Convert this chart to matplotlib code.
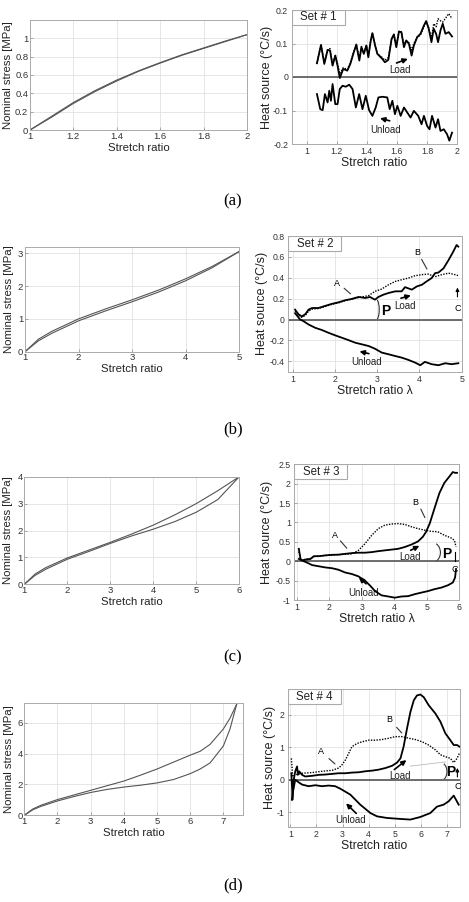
import numpy as np
import matplotlib
matplotlib.use("Agg")
import matplotlib.pyplot as plt
from matplotlib.patches import Arc, Rectangle

plt.rcParams['font.family'] = ['Liberation Sans', 'DejaVu Sans']

# ---------------- data: stress-stretch (left panels) ----------------
s1_load_x = [1, 1.1, 1.2, 1.3, 1.4, 1.5, 1.6, 1.7, 1.8, 1.9, 2.0]
s1_load_y = [0, 0.15, 0.30, 0.43, 0.545, 0.645, 0.735, 0.82, 0.895, 0.97, 1.04]
s1_unl_y = [0, 0.14, 0.29, 0.42, 0.535, 0.64, 0.73, 0.815, 0.89, 0.965, 1.04]

s2_x = [1, 1.25, 1.5, 2, 2.5, 3, 3.5, 4, 4.5, 5]
s2_load_y = [0, 0.38, 0.62, 1.0, 1.3, 1.58, 1.88, 2.22, 2.6, 3.05]
s2_unl_y = [0, 0.33, 0.56, 0.94, 1.24, 1.52, 1.82, 2.16, 2.56, 3.05]

s3_x = [1, 1.25, 1.5, 2, 2.5, 3, 3.5, 4, 4.5, 5, 5.5, 6]
s3_load_y = [0, 0.38, 0.62, 0.98, 1.27, 1.56, 1.87, 2.2, 2.58, 3.0, 3.48, 4.0]
s3_unl_y = [0, 0.33, 0.56, 0.93, 1.22, 1.52, 1.8, 2.05, 2.33, 2.68, 3.15, 4.0]

s4_x = [1, 1.25, 1.5, 2, 2.5, 3, 3.5, 4, 4.5, 5, 5.5, 6, 6.3, 6.6, 7.0, 7.2, 7.4]
s4_load_y = [0, 0.4, 0.65, 1.02, 1.32, 1.62, 1.92, 2.22, 2.6, 3.0, 3.45, 3.9, 4.15, 4.6, 5.6, 6.3, 7.2]
s4_unl_y = [0, 0.35, 0.58, 0.93, 1.22, 1.48, 1.68, 1.83, 1.95, 2.1, 2.32, 2.7, 3.0, 3.4, 4.5, 5.6, 7.2]

# ---------------- data: heat source (right panels) ----------------
h1_load_x = [1.068, 1.095, 1.117, 1.139, 1.155, 1.172, 1.19, 1.205, 1.22, 1.243, 1.27, 1.29,
             1.31, 1.33, 1.35, 1.364, 1.38, 1.397, 1.41, 1.426, 1.437, 1.455, 1.47, 1.503,
             1.52, 1.543, 1.565, 1.58, 1.596, 1.614, 1.63, 1.647, 1.662, 1.68, 1.698, 1.713,
             1.735, 1.757, 1.78, 1.795, 1.812, 1.83, 1.845, 1.861, 1.874, 1.89, 1.905, 1.923,
             1.945, 1.967]
h1_load_y = [0.041, 0.096, 0.039, 0.081, 0.079, 0.034, 0.064, 0.034, -0.003, 0.024, 0.019, 0.039,
             0.069, 0.097, 0.049, 0.089, 0.069, 0.094, 0.059, 0.109, 0.131, 0.094, 0.069, 0.054,
             0.044, 0.051, 0.114, 0.127, 0.089, 0.136, 0.134, 0.089, 0.109, 0.099, 0.064, 0.094,
             0.119, 0.129, 0.154, 0.167, 0.144, 0.104, 0.144, 0.129, 0.104, 0.139, 0.159, 0.129,
             0.134, 0.121]
h1_dot_y = [0.041, 0.096, 0.042, 0.081, 0.085, 0.036, 0.066, 0.040, 0.010, 0.028, 0.022, 0.043,
            0.072, 0.097, 0.055, 0.091, 0.072, 0.094, 0.063, 0.109, 0.131, 0.096, 0.070, 0.058,
            0.050, 0.058, 0.114, 0.127, 0.093, 0.136, 0.134, 0.095, 0.109, 0.103, 0.080, 0.100,
            0.119, 0.125, 0.150, 0.165, 0.146, 0.115, 0.159, 0.150, 0.174, 0.168, 0.164, 0.175,
            0.189, 0.174]
h1_unl_x = [1.068, 1.09, 1.106, 1.121, 1.139, 1.15, 1.161, 1.172, 1.19, 1.205, 1.22, 1.238,
            1.26, 1.283, 1.305, 1.327, 1.349, 1.371, 1.393, 1.415, 1.437, 1.459, 1.477, 1.503,
            1.536, 1.552, 1.57, 1.587, 1.603, 1.625, 1.647, 1.669, 1.691, 1.713, 1.742, 1.764,
            1.78, 1.801, 1.817, 1.834, 1.857, 1.874, 1.89, 1.912, 1.934, 1.949, 1.967]
h1_unl_y = [-0.051, -0.096, -0.099, -0.051, -0.076, -0.041, -0.071, -0.021, -0.081, -0.081, -0.036, -0.026,
            -0.029, -0.023, -0.036, -0.091, -0.051, -0.096, -0.056, -0.099, -0.116, -0.091, -0.061, -0.059,
            -0.061, -0.096, -0.071, -0.111, -0.086, -0.116, -0.091, -0.106, -0.121, -0.101, -0.116, -0.141,
            -0.116, -0.146, -0.156, -0.116, -0.151, -0.126, -0.161, -0.156, -0.171, -0.19, -0.166]

h2_load_x = [1.06, 1.14, 1.22, 1.3, 1.38, 1.46, 1.61, 1.77, 1.93, 2.09, 2.24, 2.4, 2.56, 2.72, 2.83,
             2.95, 3.03, 3.15, 3.27, 3.43, 3.58, 3.66, 3.82, 3.94, 4.06, 4.17, 4.29, 4.37, 4.45,
             4.57, 4.69, 4.8, 4.88, 4.92]
h2_load_y = [0.095, 0.05, 0.03, 0.05, 0.095, 0.11, 0.11, 0.13, 0.15, 0.165, 0.184, 0.197, 0.216, 0.206,
             0.216, 0.19, 0.216, 0.238, 0.254, 0.27, 0.27, 0.31, 0.286, 0.317, 0.333, 0.365, 0.397,
             0.444, 0.45, 0.49, 0.57, 0.65, 0.714, 0.698]
h2_dot_x = [1.06, 1.14, 1.22, 1.3, 1.38, 1.46, 1.61, 1.77, 1.93, 2.09, 2.24, 2.4, 2.56, 2.8, 2.95,
            3.11, 3.27, 3.43, 3.58, 3.74, 3.9, 4.06, 4.21, 4.37, 4.53, 4.69, 4.84, 4.92]
h2_dot_y = [0.08, 0.04, 0.02, 0.04, 0.08, 0.1, 0.105, 0.125, 0.145, 0.16, 0.18, 0.195, 0.21, 0.229, 0.27,
            0.292, 0.333, 0.365, 0.381, 0.397, 0.42, 0.43, 0.435, 0.41, 0.43, 0.444, 0.43, 0.42]
h2_unl_x = [1.06, 1.18, 1.26, 1.38, 1.54, 1.69, 1.85, 2.01, 2.17, 2.32, 2.48, 2.64, 2.8, 2.95, 3.11,
            3.27, 3.43, 3.58, 3.74, 3.9, 4.02, 4.13, 4.29, 4.45, 4.61, 4.76, 4.92]
h2_unl_y = [0.06, 0.0, -0.016, -0.048, -0.08, -0.1, -0.127, -0.152, -0.175, -0.197, -0.222, -0.238, -0.254,
            -0.28, -0.317, -0.333, -0.35, -0.365, -0.387, -0.413, -0.438, -0.406, -0.428, -0.438, -0.419,
            -0.428, -0.419]

h3_load_x = [1.07, 1.12, 1.17, 1.27, 1.43, 1.53, 1.68, 1.88, 2.09, 2.29, 2.49, 2.7, 2.9, 3.1, 3.31,
             3.51, 3.71, 3.92, 4.12, 4.32, 4.53, 4.73, 4.88, 4.98, 5.09, 5.24, 5.39, 5.54, 5.7,
             5.8, 5.87, 5.93]
h3_load_y = [0.32, 0.06, 0.02, 0.04, 0.06, 0.13, 0.13, 0.15, 0.165, 0.17, 0.19, 0.21, 0.22, 0.22, 0.235,
             0.26, 0.28, 0.3, 0.32, 0.365, 0.43, 0.51, 0.63, 0.76, 0.97, 1.37, 1.76, 2.02, 2.19,
             2.3, 2.28, 2.28]
h3_dot_x = [1.07, 1.12, 1.17, 1.27, 1.43, 1.53, 1.68, 1.88, 2.09, 2.29, 2.49, 2.7, 2.9, 3.1, 3.31,
            3.51, 3.71, 3.92, 4.12, 4.32, 4.53, 4.73, 4.94, 5.14, 5.34, 5.54, 5.75, 5.85, 5.9]
h3_dot_y = [0.25, 0.08, 0.03, 0.05, 0.07, 0.12, 0.13, 0.15, 0.16, 0.17, 0.18, 0.19, 0.28, 0.45, 0.67,
            0.84, 0.93, 0.96, 0.97, 0.95, 0.89, 0.84, 0.8, 0.77, 0.76, 0.67, 0.6, 0.54, 0.37]
h3_unl_x = [1.07, 1.17, 1.33, 1.48, 1.68, 1.88, 2.09, 2.29, 2.49, 2.7, 2.9, 3.1, 3.26, 3.41, 3.61,
            3.82, 4.02, 4.22, 4.43, 4.63, 4.83, 5.04, 5.24, 5.45, 5.65, 5.8, 5.87, 5.9]
h3_unl_y = [0.06, 0.02, -0.04, -0.1, -0.13, -0.16, -0.18, -0.22, -0.29, -0.33, -0.39, -0.5, -0.63, -0.77,
            -0.88, -0.91, -0.94, -0.91, -0.9, -0.85, -0.81, -0.77, -0.72, -0.68, -0.62, -0.55, -0.42, -0.2]

h4_load_x = [1.04, 1.09, 1.13, 1.19, 1.26, 1.29, 1.34, 1.45, 1.57, 1.83, 2.09, 2.34, 2.6, 2.85, 3.11,
             3.36, 3.62, 3.87, 4.13, 4.38, 4.64, 4.9, 5.09, 5.22, 5.34, 5.47, 5.6, 5.73, 5.85,
             5.98, 6.11, 6.3, 6.56, 6.75, 6.94, 7.13, 7.26, 7.39, 7.48]
h4_load_y = [0.2, -0.61, 0.0, 0.26, 0.41, 0.15, 0.26, 0.15, 0.1, 0.12, 0.15, 0.16, 0.18, 0.2, 0.2,
             0.22, 0.23, 0.26, 0.28, 0.31, 0.36, 0.43, 0.53, 0.66, 1.02, 1.58, 2.09, 2.45, 2.6,
             2.63, 2.55, 2.3, 2.04, 1.79, 1.43, 1.22, 1.07, 1.07, 1.02]
h4_dot_x = [1.04, 1.09, 1.19, 1.45, 1.83, 2.21, 2.6, 2.85, 2.98, 3.11, 3.24, 3.36, 3.56, 3.75, 4.0,
            4.26, 4.51, 4.77, 5.02, 5.28, 5.54, 5.79, 6.05, 6.3, 6.56, 6.75, 6.94, 7.13, 7.26,
            7.39, 7.48]
h4_dot_y = [0.66, 0.1, 0.15, 0.2, 0.22, 0.26, 0.29, 0.36, 0.46, 0.61, 0.82, 1.02, 1.12, 1.17, 1.22,
            1.22, 1.24, 1.28, 1.33, 1.33, 1.28, 1.24, 1.17, 1.07, 0.92, 0.77, 0.71, 0.66, 0.53,
            0.66, 0.82]
h4_unl_x = [1.06, 1.09, 1.19, 1.32, 1.45, 1.7, 1.96, 2.21, 2.47, 2.72, 2.92, 3.3, 3.68, 4.07, 4.32,
            4.7, 5.21, 5.6, 5.98, 6.36, 6.62, 6.87, 7.06, 7.26, 7.45]
h4_unl_y = [-0.62, -0.41, 0.0, -0.08, -0.15, -0.2, -0.17, -0.2, -0.18, -0.2, -0.28, -0.46, -0.77, -1.03,
            -1.13, -1.18, -1.21, -1.23, -1.15, -1.03, -0.83, -0.77, -0.67, -0.49, -0.77]

panel_labels = ['(a)', '(b)', '(c)', '(d)']
set_names = ['Set # 1', 'Set # 2', 'Set # 3', 'Set # 4']

W, H = 469, 902
fig = plt.figure(figsize=(W / 100, H / 100), dpi=100)


def rect(x0, y0, x1, y1):
    return [x0 / W, 1 - y1 / H, (x1 - x0) / W, (y1 - y0) / H]


def style(ax, fs, pad):
    ax.grid(True, color='#e2e2e2', lw=0.6)
    ax.set_axisbelow(True)
    for sp in ax.spines.values():
        sp.set_color('#aaaaaa')
        sp.set_linewidth(0.7)
    ax.tick_params(direction='in', length=2, width=0.5, color='#888888',
                   labelsize=fs, pad=pad, labelcolor='#333333')


def place_labels(ax, box, xlab_dy, ylab_x):
    x0, y0, x1, y1 = box
    ax.xaxis.set_label_coords(0.5, -xlab_dy / (y1 - y0))
    ax.xaxis.label.set_va('center')
    ax.yaxis.set_label_coords((ylab_x - x0) / (x1 - x0), 0.5)
    ax.yaxis.label.set_va('center')


# left panels: box in pixels, xlabel offset below axes, ylabel x
left_specs = [
    ((30, 20, 247, 130), s1_load_x, s1_load_y, s1_load_x, s1_unl_y, (1, 2), (0, 1.2),
     [1, 1.2, 1.4, 1.6, 1.8, 2], [0, 0.2, 0.4, 0.6, 0.8, 1], 18, 8),
    ((25, 246.7, 239, 351.7), s2_x, s2_load_y, s2_x, s2_unl_y, (1, 5), (0, 3.2),
     [1, 2, 3, 4, 5], [0, 1, 2, 3], 17.5, 9),
    ((24.3, 476.7, 239.3, 584.3), s3_x, s3_load_y, s3_x, s3_unl_y, (1, 6), (0, 4),
     [1, 2, 3, 4, 5, 6], [0, 1, 2, 3, 4], 18, 8),
    ((24.3, 702.7, 243.3, 815.3), s4_x, s4_load_y, s4_x, s4_unl_y, (1, 7.6), (0, 7.3),
     [1, 2, 3, 4, 5, 6, 7], [0, 2, 4, 6], 18, 9),
]
for box, lx, ly, ux, uy, xl, yl, xt, yt, xdy, ylx in left_specs:
    ax = fig.add_axes(rect(*box))
    style(ax, 6.8, 1.2)
    ax.plot(lx, ly, color='#555555', lw=0.8)
    ax.plot(ux, uy, color='#555555', lw=0.8)
    ax.set_xlim(*xl)
    ax.set_ylim(*yl)
    ax.set_xticks(xt)
    ax.set_yticks(yt)
    ax.set_xticklabels([f'{v:g}' for v in xt])
    ax.set_yticklabels([f'{v:g}' for v in yt])
    ax.set_xlabel('Stretch ratio', fontsize=8.2, color='#222222')
    ax.set_ylabel('Nominal stress [MPa]', fontsize=8.2, color='#222222')
    place_labels(ax, box, xdy, ylx)

# right panels
right_specs = [
    ((291.7, 10, 457, 144), (h1_load_x, h1_load_y), (h1_load_x, h1_dot_y), (h1_unl_x, h1_unl_y),
     (0.9, 2), (-0.2, 0.2), [1, 1.2, 1.4, 1.6, 1.8, 2], [-0.2, -0.1, 0, 0.1, 0.2], 'Stretch ratio', 19.5, 267),
    ((288.3, 236, 461.7, 371.7), (h2_load_x, h2_load_y), (h2_dot_x, h2_dot_y), (h2_unl_x, h2_unl_y),
     (0.9, 5), (-0.5, 0.8), [1, 2, 3, 4, 5], [-0.4, -0.2, 0, 0.2, 0.4, 0.6, 0.8], 'Stretch ratio λ', 19.5, 262),
    ((294.3, 464.3, 459.3, 600), (h3_load_x, h3_load_y), (h3_dot_x, h3_dot_y), (h3_unl_x, h3_unl_y),
     (0.93, 6), (-1, 2.5), [1, 2, 3, 4, 5, 6], [-1, -0.5, 0, 0.5, 1, 1.5, 2, 2.5], 'Stretch ratio λ', 19, 267),
    ((287.7, 689, 460, 826.7), (h4_load_x, h4_load_y), (h4_dot_x, h4_dot_y), (h4_unl_x, h4_unl_y),
     (0.9, 7.5), (-1.45, 2.8), [1, 2, 3, 4, 5, 6, 7], [-1, 0, 1, 2], 'Stretch ratio', 19, 270),
]
raxes = []
for i, (box, ld, dd, ud, xl, yl, xt, yt, xlab, xdy, ylx) in enumerate(right_specs):
    ax = fig.add_axes(rect(*box))
    style(ax, 6.3, 2.5)
    ax.axhline(0, color='#555555', lw=1.2, zorder=2)
    ax.plot(*dd, color='black', lw=1.0, ls=(0, (1, 1)), zorder=3)
    ax.plot(*ld, color='black', lw=1.3, zorder=4)
    ax.plot(*ud, color='black', lw=1.3, zorder=4)
    ax.set_xlim(*xl)
    ax.set_ylim(*yl)
    ax.set_xticks(xt)
    ax.set_yticks(yt)
    ax.set_xticklabels([f'{v:g}' for v in xt])
    ax.set_yticklabels([f'{v:g}' for v in yt])
    ax.set_xlabel(xlab, fontsize=8.8, color='#222222')
    ax.set_ylabel('Heat source (°C/s)', fontsize=9, color='#222222')
    place_labels(ax, box, xdy, ylx)
    bw = 53 / (box[2] - box[0])
    bh = 15 / (box[3] - box[1])
    ax.add_patch(Rectangle((0.0, 1 - bh), bw, bh, transform=ax.transAxes, fc='white',
                           ec='#aaaaaa', lw=0.8, zorder=6))
    ax.text(bw / 2, 1 - bh / 2, set_names[i], transform=ax.transAxes, fontsize=8.3,
            va='center', ha='center', color='#222222', zorder=7)
    raxes.append(ax)

arrow = dict(arrowstyle='-|>', color='black', lw=1.2, mutation_scale=7)
line = dict(arrowstyle='-', color='#333333', lw=0.8)
up_arrow = dict(arrowstyle='-|>', color='black', lw=0.8, mutation_scale=5)

# annotations panel 1
ax = raxes[0]
ax.annotate('', xy=(1.69, 0.057), xytext=(1.58, 0.039), arrowprops=arrow)
ax.text(1.62, 0.022, 'Load', fontsize=7, ha='center', va='center', color='#222222')
ax.annotate('', xy=(1.47, -0.121), xytext=(1.57, -0.133), arrowprops=arrow)
ax.text(1.525, -0.157, 'Unload', fontsize=7, ha='center', va='center', color='#222222')

# annotations panel 2
ax = raxes[1]
ax.text(2.05, 0.343, 'A', fontsize=6.5, ha='center', va='center')
ax.annotate('', xy=(2.42, 0.229), xytext=(2.17, 0.317), arrowprops=line)
ax.text(3.94, 0.641, 'B', fontsize=6.5, ha='center', va='center')
ax.annotate('', xy=(4.21, 0.46), xytext=(4.02, 0.6), arrowprops=line)
ax.text(4.9, 0.11, 'C', fontsize=6.5, ha='center', va='center')
ax.annotate('', xy=(4.9, 0.333), xytext=(4.9, 0.19), arrowprops=up_arrow)
ax.text(3.2, 0.08, 'P', fontsize=10, fontweight='bold', ha='center', va='center')
ax.add_patch(Arc((2.95, 0.095), 0.2, 0.22, theta1=-60, theta2=60, color='#333333', lw=0.8))
ax.annotate('', xy=(3.86, 0.238), xytext=(3.5, 0.197), arrowprops=arrow)
ax.text(3.66, 0.133, 'Load', fontsize=7, ha='center', va='center', color='#222222')
ax.annotate('', xy=(2.52, -0.3), xytext=(2.87, -0.333), arrowprops=arrow)
ax.text(2.74, -0.403, 'Unload', fontsize=7, ha='center', va='center', color='#222222')

# annotations panel 3
ax = raxes[2]
ax.text(2.17, 0.67, 'A', fontsize=6.5, ha='center', va='center')
ax.annotate('', xy=(2.6, 0.28), xytext=(2.29, 0.58), arrowprops=line)
ax.text(4.66, 1.52, 'B', fontsize=6.5, ha='center', va='center')
ax.annotate('', xy=(4.98, 1.06), xytext=(4.78, 1.41), arrowprops=line)
ax.text(5.85, -0.22, 'C', fontsize=6.5, ha='center', va='center')
ax.plot([5.87, 5.87], [0, 0.25], color='black', lw=0.8)
ax.text(5.62, 0.19, 'P', fontsize=10, fontweight='bold', ha='center', va='center')
ax.add_patch(Arc((5.16, 0.225), 0.52, 0.52, theta1=-60, theta2=60, color='#333333', lw=0.8))
ax.annotate('', xy=(4.85, 0.43), xytext=(4.43, 0.25), arrowprops=arrow)
ax.text(4.48, 0.1, 'Load', fontsize=7, ha='center', va='center', color='#222222')
ax.annotate('', xy=(2.85, -0.37), xytext=(3.2, -0.63), arrowprops=arrow)
ax.text(3.05, -0.82, 'Unload', fontsize=7, ha='center', va='center', color='#222222')

# annotations panel 4
ax = raxes[3]
ax.text(2.19, 0.87, 'A', fontsize=6.5, ha='center', va='center')
ax.annotate('', xy=(2.79, 0.43), xytext=(2.4, 0.71), arrowprops=line)
ax.text(4.79, 1.86, 'B', fontsize=6.5, ha='center', va='center')
ax.annotate('', xy=(5.34, 1.38), xytext=(5.0, 1.68), arrowprops=line)
ax.text(7.42, -0.2, 'C', fontsize=6.5, ha='center', va='center')
ax.annotate('', xy=(7.4, 0.45), xytext=(7.4, 0.0), arrowprops=up_arrow)
ax.text(7.15, 0.24, 'P', fontsize=10, fontweight='bold', ha='center', va='center')
ax.add_patch(Arc((6.74, 0.25), 0.52, 0.58, theta1=-60, theta2=60, color='#333333', lw=0.8))
ax.plot([5.6, 6.95], [0.42, 0.55], color='#bbbbbb', lw=0.6)
ax.annotate('', xy=(5.53, 0.66), xytext=(4.9, 0.26), arrowprops=arrow)
ax.text(5.21, 0.13, 'Load', fontsize=7, ha='center', va='center', color='#222222')
ax.annotate('', xy=(3.06, -0.67), xytext=(3.6, -1.1), arrowprops=arrow)
ax.text(3.3, -1.25, 'Unload', fontsize=7, ha='center', va='center', color='#222222')

# panel letters
for lab, yp in zip(panel_labels, [201.7, 429, 657, 885]):
    fig.text(233 / W, 1 - yp / H, lab, fontsize=12, family=['Liberation Serif', 'DejaVu Serif'],
             ha='center', va='center')

fig.savefig('out.png', dpi=100)
